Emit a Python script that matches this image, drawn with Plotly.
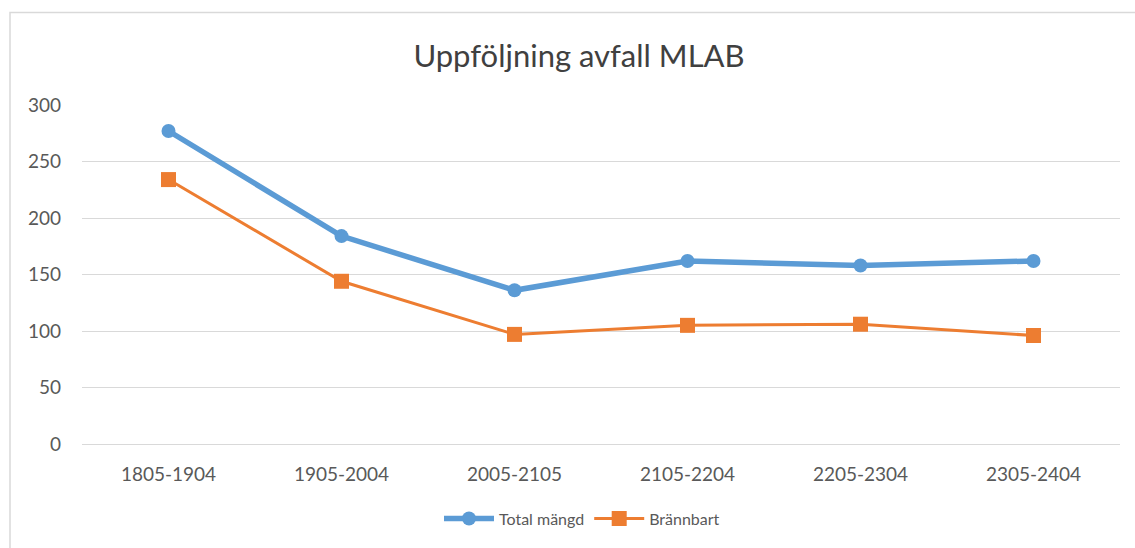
import plotly.graph_objects as go

categories = ["1805-1904", "1905-2004", "2005-2105", "2105-2204", "2205-2304", "2305-2404"]
total_mangd = [277, 184, 136, 162, 158, 162]
brannbart = [234, 144, 97, 105, 106, 96]
y_ticks = [0, 50, 100, 150, 200, 250, 300]

W, H = 1135, 548
L, R, T, B = 82, 15, 105, 102
pw = W - L - R
ph = H - T - B

fig = go.Figure()
fig.add_trace(go.Scatter(
    x=categories, y=total_mangd, name="Total mängd", mode="lines+markers",
    line=dict(color="#5B9BD5", width=5.5),
    marker=dict(symbol="circle", size=14, color="#5B9BD5"),
))
fig.add_trace(go.Scatter(
    x=categories, y=brannbart, name="Brännbart", mode="lines+markers",
    line=dict(color="#ED7D31", width=3),
    marker=dict(symbol="square", size=15, color="#ED7D31"),
))

# chart frame
fig.add_shape(type="rect", xref="paper", yref="paper",
              x0=(10 - L) / pw, x1=(W + 20 - L) / pw,
              y0=(H - B - (H + 20)) / ph, y1=(H - B - 12) / ph,
              line=dict(color="#D9D9D9", width=1.5), fillcolor="rgba(0,0,0,0)", layer="below")

fig.update_layout(
    width=W, height=H,
    margin=dict(l=L, r=R, t=T, b=B),
    paper_bgcolor="white", plot_bgcolor="white",
    font=dict(family="Lato, Open Sans, sans-serif", color="#595959", size=19),
    title=dict(text="Uppföljning avfall MLAB", x=579 / W, xanchor="center",
               y=1 - 56 / H, yanchor="middle",
               font=dict(size=31, color="#404040")),
    xaxis=dict(type="category", showgrid=False, zeroline=False, showline=False,
               ticks="", ticklabelstandoff=17,
               tickfont=dict(size=19, color="#595959"), range=[-0.5, 5.5]),
    yaxis=dict(range=[0, 300], tickvals=y_ticks, showgrid=True, gridcolor="#D9D9D9",
               gridwidth=1.2, zeroline=True, zerolinecolor="#D9D9D9", zerolinewidth=1.2,
               showline=False, ticks="",
               ticklabelstandoff=20, tickfont=dict(size=19, color="#595959")),
    legend=dict(orientation="h", x=(582 - L) / pw, xanchor="center",
                y=(H - B - 521) / ph, yanchor="middle",
                font=dict(size=16, color="#595959"), itemwidth=50, traceorder="normal"),
    showlegend=True,
)

fig.write_html("out.html", config={"displayModeBar": False},
               post_script="document.body.style.margin='0';document.body.style.padding='0';")
